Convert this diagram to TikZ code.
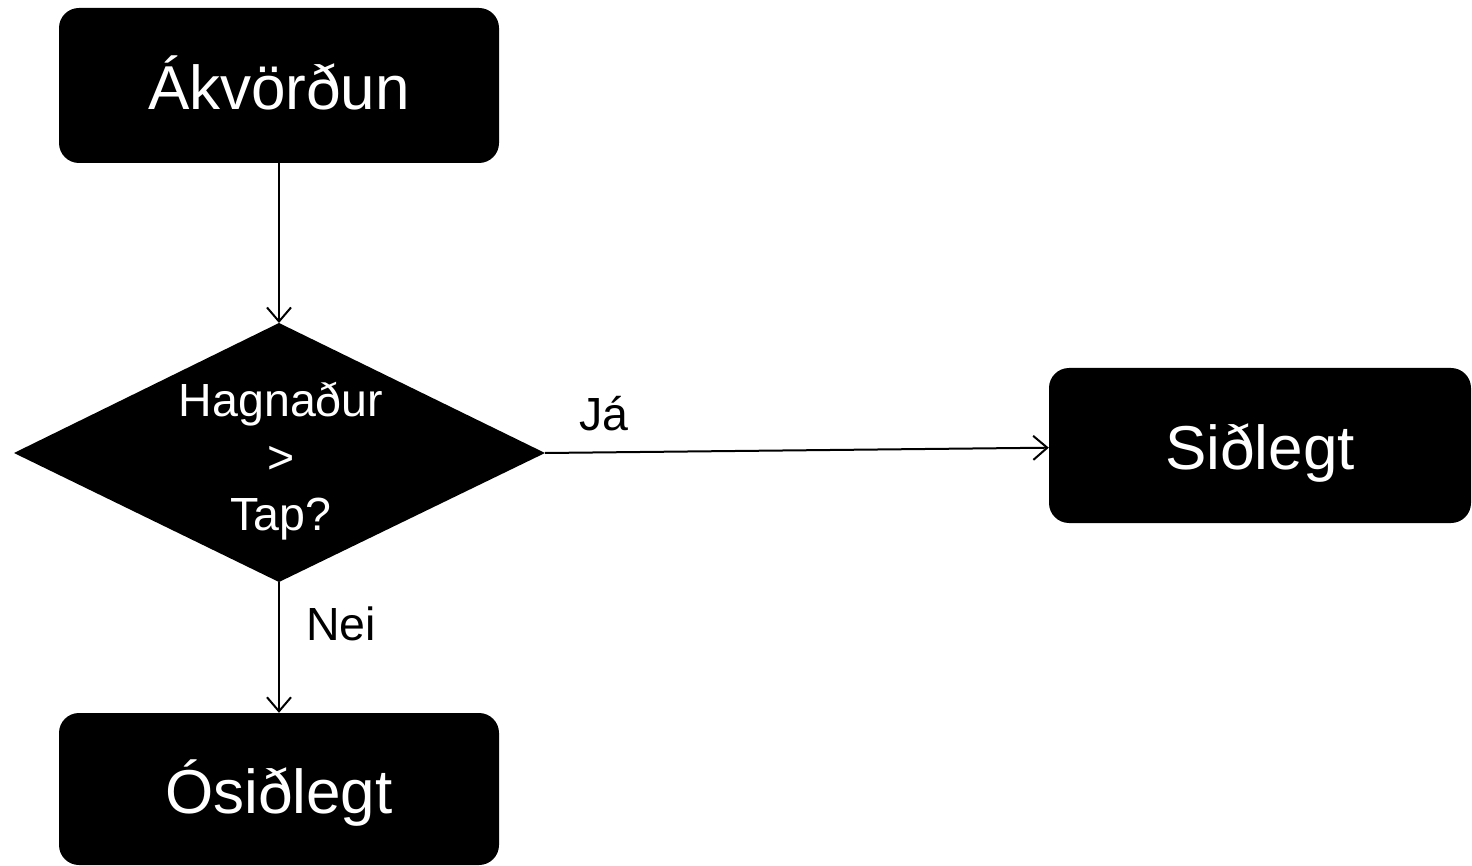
\documentclass[tikz,border=0pt]{standalone}
\usepackage{fontspec}
\setmainfont{Liberation Sans}
\usetikzlibrary{arrows.meta}
\begin{document}
\begin{tikzpicture}[x=1pt,y=-1pt,
  box/.style={fill=black, rounded corners=20pt, text=white, inner sep=0pt,
    font=\fontsize{62}{74}\selectfont, text height=48pt, text depth=0pt},
  dtext/.style={text=white, align=center, inner sep=0pt, font=\fontsize{46.5}{57}\selectfont},
  lbl/.style={text=black, inner sep=0pt, font=\fontsize{46.5}{57}\selectfont},
  conn/.style={line width=2pt, -{Straight Barb[length=14pt,width=24pt,line width=2pt]}}]
\useasboundingbox (0,0) rectangle (1472,866);
% boxes
\node[box, minimum width=440pt, minimum height=155pt] (ak) at (279,85.5) {Ákvörðun};
\node[box, minimum width=422pt, minimum height=155pt] (sid) at (1260,445.5) {Siðlegt};
\node[box, minimum width=440pt, minimum height=152pt] (osid) at (279,789) {Ósiðlegt};
% decision diamond
\coordinate (dtop) at (279,323);
\coordinate (dright) at (545,453);
\coordinate (dbot) at (279,582);
\coordinate (dleft) at (14,453);
\fill[black] (dtop) -- (dright) -- (dbot) -- (dleft) -- cycle;
\node[dtext] (dec) at (281,461) {Hagnaður\\>\\Tap?};
% connectors
\draw[conn] (ak) -- (dtop);
\draw[conn] (dright) -- (sid);
\draw[conn] (dbot) -- (osid);
% labels
\node[lbl] (ja) at (604,414) {Já};
\node[lbl] (nei) at (341,624) {Nei};
\end{tikzpicture}
\end{document}
